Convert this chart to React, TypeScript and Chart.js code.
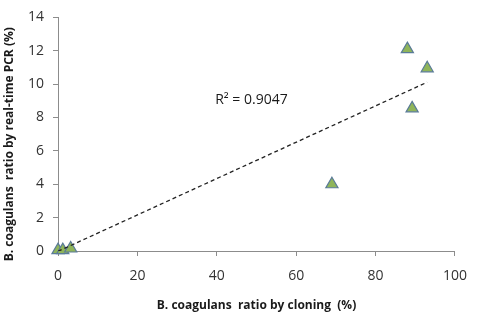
import React, { useEffect, useRef } from "react";
import { Chart, registerables } from "chart.js";

Chart.register(...registerables);

// Bacillus coagulans ratio: cloning (x) vs real-time PCR (y), in percent
const cloningRatio = [0, 1.2, 3.2, 69, 88, 93, 89.2];
const pcrRatio = [0.05, 0.05, 0.15, 4.0, 12.1, 10.95, 8.55];

// Linear trend line shown on the chart
const trendSlope = 0.109;
const trendIntercept = -0.02;
const rSquaredLabel = "R² = 0.9047";
const labelAnchor = [39.6, 9.04];

const xTitle = "B. coagulans  ratio by cloning  (%)";
const yTitle = "B. coagulans  ratio by real-time PCR (%)";

const FONT = "'Open Sans', sans-serif";
const AXIS_GRAY = "#8c8c8c";

const annotationPlugin = {
  id: "annotations",
  afterDraw(chart: any) {
    const { ctx, chartArea, scales } = chart;
    ctx.save();
    // R² label
    ctx.fillStyle = "#1a1a1a";
    ctx.font = `14px ${FONT}`;
    ctx.textAlign = "left";
    ctx.textBaseline = "middle";
    ctx.fillText(
      rSquaredLabel,
      scales.x.getPixelForValue(labelAnchor[0]),
      scales.y.getPixelForValue(labelAnchor[1])
    );
    // rotated y-axis title
    ctx.font = `bold 12px ${FONT}`;
    ctx.textAlign = "center";
    ctx.translate(10, (chartArea.top + chartArea.bottom) / 2 + 10);
    ctx.rotate(-Math.PI / 2);
    ctx.fillText(yTitle, 0, 0);
    ctx.restore();
  },
};

export default function App() {
  const canvasRef = useRef<HTMLCanvasElement | null>(null);

  useEffect(() => {
    if (!canvasRef.current) return;
    const xMin = Math.min(...cloningRatio);
    const xMax = Math.max(...cloningRatio);
    const chart = new Chart(canvasRef.current, {
      type: "scatter",
      data: {
        datasets: [
          {
            type: "line",
            data: [
              { x: xMin, y: trendSlope * xMin + trendIntercept },
              { x: xMax, y: trendSlope * xMax + trendIntercept },
            ],
            borderColor: "#222",
            borderWidth: 1.3,
            borderDash: [4, 3],
            pointRadius: 0,
            fill: false,
          },
          {
            data: cloningRatio.map((x, i) => ({ x, y: pcrRatio[i] })),
            pointStyle: "triangle",
            pointRadius: 7,
            pointHoverRadius: 7,
            backgroundColor: "#8fb55a",
            borderColor: "#5a7b98",
            borderWidth: 1.2,
            clip: false,
          },
        ],
      },
      plugins: [annotationPlugin],
      options: {
        responsive: false,
        animation: false,
        layout: { padding: { top: 17, right: 22, left: 0, bottom: 0 } },
        plugins: { legend: { display: false }, tooltip: { enabled: false } },
        scales: {
          x: {
            type: "linear",
            min: 0,
            max: 100,
            afterFit: (s: any) => {
              s.height = 77;
            },
            ticks: {
              stepSize: 20,
              color: "#333",
              font: { family: FONT, size: 14 },
              padding: 12,
              maxRotation: 0,
            },
            grid: {
              drawOnChartArea: false,
              drawTicks: true,
              tickLength: 5,
              color: AXIS_GRAY,
            },
            border: { display: true, color: AXIS_GRAY, width: 1 },
            title: {
              display: true,
              text: xTitle,
              color: "#1a1a1a",
              font: { family: FONT, size: 12, weight: "bold" },
              padding: { top: 0, bottom: 15 },
            },
          },
          y: {
            type: "linear",
            min: 0,
            max: 14,
            afterFit: (s: any) => {
              s.width = 58;
            },
            ticks: {
              stepSize: 2,
              color: "#333",
              font: { family: FONT, size: 14 },
              padding: 9,
            },
            grid: {
              drawOnChartArea: false,
              drawTicks: true,
              tickLength: 5,
              color: AXIS_GRAY,
            },
            border: { display: true, color: AXIS_GRAY, width: 1 },
          },
        },
      },
    } as any);
    return () => chart.destroy();
  }, []);

  return (
    <div style={{ position: "fixed", left: 0, top: 0, width: 479, height: 328, background: "#fff" }}>
      <canvas ref={canvasRef} width={479} height={328} style={{ display: "block" }} />
    </div>
  );
}
